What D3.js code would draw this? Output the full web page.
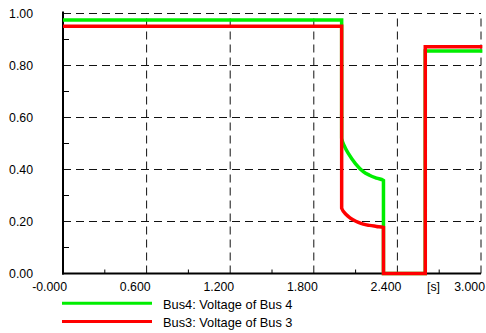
<!DOCTYPE html>
<html>
<head>
<meta charset="utf-8">
<script src="https://cdn.jsdelivr.net/npm/d3@7"></script>
<style>
  body { margin: 0; background: #fff; }
  text { font-family: "Liberation Sans", Arial, sans-serif; font-size: 12.3px; fill: #000; }
  .legend text { font-size: 12.8px; }
</style>
</head>
<body>
<svg id="chart" width="486" height="333"></svg>
<script>
// time axis ticks [s] and voltage ticks [p.u.]
var xTicks = [0, 0.6, 1.2, 1.8, 2.4, 3.0];
var xTickLabels = ["-0.000", "0.600", "1.200", "1.800", "2.400", "3.000"];
var yTicks = [0, 0.2, 0.4, 0.6, 0.8, 1.0];
var yTickLabels = ["0.00", "0.20", "0.40", "0.60", "0.80", "1.00"];

// Bus4 voltage (green)
var bus4Time = [0, 2.0, 2.0, 2.02, 2.05, 2.1, 2.155, 2.2, 2.25, 2.3, 2.3, 2.3, 2.6, 2.6, 3.01];
var bus4Volt = [0.975, 0.975, 0.52, 0.49, 0.46, 0.422, 0.392, 0.378, 0.367, 0.358, 0.177, 0, 0, 0.856, 0.856];

// Bus3 voltage (red)
var bus3Time = [0, 2.0, 2.0, 2.036, 2.06, 2.085, 2.12, 2.155, 2.2, 2.25, 2.3, 2.3, 2.6, 2.6, 3.01];
var bus3Volt = [0.951, 0.951, 0.251, 0.225, 0.214, 0.206, 0.197, 0.19, 0.185, 0.181, 0.177, 0, 0, 0.872, 0.872];

var seriesNames = ["Bus4: Voltage of Bus 4", "Bus3: Voltage of Bus 3"];
var seriesColors = ["#00ee00", "#ff0000"];

var svg = d3.select("#chart");
var plotLeft = 63, plotRight = 481, plotTop = 13.5, plotBottom = 273.5;

var x = d3.scaleLinear().domain([0, 3.0]).range([plotLeft, plotRight]);
var y = d3.scaleLinear().domain([0, 1.0]).range([plotBottom, plotTop]);

// dashed grid
var grid = svg.append("g")
    .attr("stroke", "#111")
    .attr("stroke-width", 1)
    .attr("stroke-dasharray", "8,5");
grid.selectAll("line.gx")
    .data(xTicks.slice(1))
    .enter().append("line")
    .attr("x1", function (d) { return x(d); })
    .attr("x2", function (d) { return x(d); })
    .attr("y1", plotBottom)
    .attr("y2", plotTop);
grid.selectAll("line.gy")
    .data(yTicks.slice(1))
    .enter().append("line")
    .attr("x1", plotLeft)
    .attr("x2", plotRight)
    .attr("y1", function (d) { return y(d); })
    .attr("y2", function (d) { return y(d); });

// minor ticks
var minorX = d3.range(0.3, 3.0, 0.6);
var minorY = d3.range(0.1, 1.0, 0.2);
svg.append("g").selectAll("line")
    .data(minorX)
    .enter().append("line")
    .attr("x1", function (d) { return x(d); })
    .attr("x2", function (d) { return x(d); })
    .attr("y1", plotBottom)
    .attr("y2", plotBottom - 4)
    .attr("stroke", "#000");
svg.append("g").selectAll("line")
    .data(minorY)
    .enter().append("line")
    .attr("x1", plotLeft)
    .attr("x2", plotLeft + 6)
    .attr("y1", function (d) { return y(d); })
    .attr("y2", function (d) { return y(d); })
    .attr("stroke", "#000");

// axes lines
svg.append("line").attr("x1", plotLeft).attr("x2", plotLeft).attr("y1", plotTop - 2).attr("y2", plotBottom + 1)
    .attr("stroke", "#000").attr("stroke-width", 2);
svg.append("line").attr("x1", plotLeft - 1).attr("x2", plotRight).attr("y1", plotBottom).attr("y2", plotBottom)
    .attr("stroke", "#000").attr("stroke-width", 2);

// tick labels
svg.append("g").selectAll("text")
    .data(yTicks)
    .enter().append("text")
    .attr("x", 33)
    .attr("y", function (d) { return y(d) + 4.6; })
    .attr("text-anchor", "end")
    .text(function (d, i) { return yTickLabels[i]; });
svg.append("g").selectAll("text")
    .data(xTicks)
    .enter().append("text")
    .attr("x", function (d) { return x(d) + 4; })
    .attr("y", 291)
    .attr("text-anchor", "end")
    .text(function (d, i) { return xTickLabels[i]; });
svg.append("text").attr("x", 427).attr("y", 291).text("[s]");

// lines
var line = d3.line()
    .curve(d3.curveMonotoneX)
    .x(function (d) { return x(d[0]); })
    .y(function (d) { return y(d[1]); });

var data = [
    d3.zip(bus4Time, bus4Volt),
    d3.zip(bus3Time, bus3Volt)
];
svg.append("g").selectAll("path")
    .data(data)
    .enter().append("path")
    .attr("fill", "none")
    .attr("stroke", function (d, i) { return seriesColors[i]; })
    .attr("stroke-width", 3.5)
    .attr("stroke-linejoin", "miter")
    .attr("d", line);

// legend
var legend = svg.append("g").attr("class", "legend").selectAll("g")
    .data(seriesNames)
    .enter().append("g")
    .attr("transform", function (d, i) { return "translate(0," + (303.3 + i * 18.3) + ")"; });
legend.append("line")
    .attr("x1", 62).attr("x2", 152)
    .attr("stroke", function (d, i) { return seriesColors[i]; })
    .attr("stroke-width", 3);
legend.append("text")
    .attr("x", 163)
    .attr("y", 5.7)
    .text(function (d) { return d; });
</script>
</body>
</html>
